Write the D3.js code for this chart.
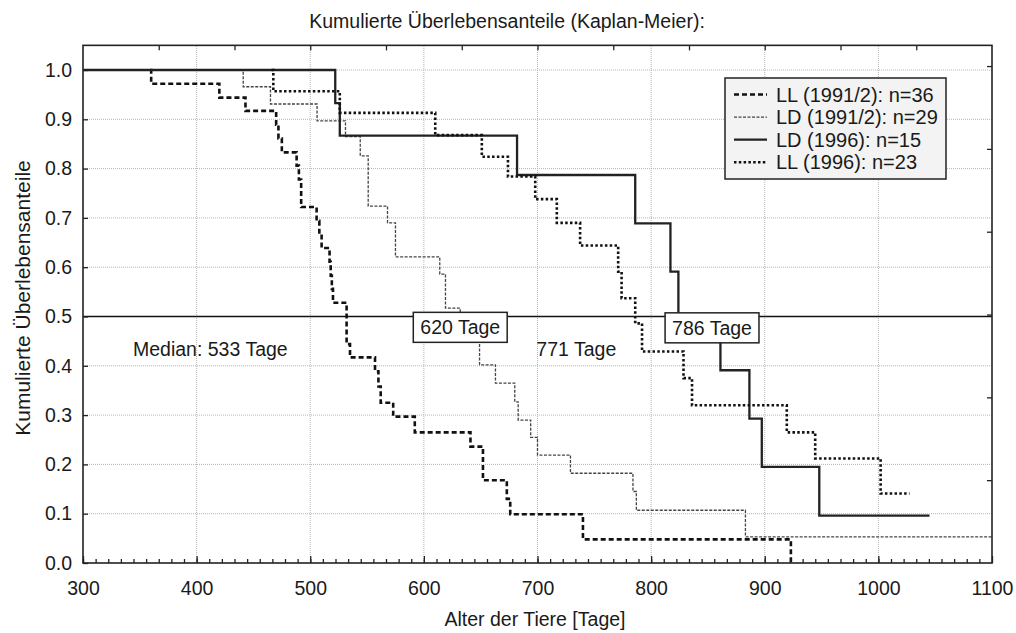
<!DOCTYPE html>
<html>
<head>
<meta charset="utf-8">
<script src="https://cdn.jsdelivr.net/npm/d3@7"></script>
<style>
  body { margin: 0; background: #fff; }
  svg text { font-family: "Liberation Sans", Arial, sans-serif; fill: #1a1a1a; }
</style>
</head>
<body>
<div id="root"></div>
<script>
// Kaplan-Meier step data: [Tage, kumulierte Ueberlebensanteile]
const llEarly = [
  [359, 1.0], [360, 0.972], [420, 0.944], [443, 0.917], [470, 0.889], [472, 0.861],
  [475, 0.833], [488, 0.806], [490, 0.778], [492, 0.722], [505.6, 0.694], [508, 0.667],
  [510, 0.639], [517, 0.611], [518, 0.583], [519, 0.556], [520, 0.528], [532, 0.444],
  [535, 0.417], [557, 0.389], [560, 0.358], [562, 0.325], [573, 0.297], [592, 0.265],
  [641, 0.236], [652, 0.168], [673, 0.13], [676, 0.099], [740, 0.048], [923, 0.0]
];
const ldEarly = [
  [300, 1.0], [441, 0.966], [465, 0.931], [506, 0.897], [531, 0.865], [544, 0.826],
  [551, 0.724], [568, 0.690], [575, 0.621], [614, 0.586], [619, 0.517], [632, 0.483],
  [642, 0.448], [649, 0.402], [663, 0.365], [680, 0.327], [683, 0.290], [694, 0.255],
  [700, 0.219], [729, 0.182], [784, 0.145], [787, 0.107], [883, 0.053], [1100, 0.053]
];
const ldLate = [
  [300, 1.0], [522, 0.933], [526, 0.867], [682, 0.787], [786, 0.689], [817, 0.591],
  [824, 0.492], [861, 0.391], [886.5, 0.293], [897.4, 0.195], [948, 0.096], [1045, 0.096]
];
const llLate = [
  [466, 1.0], [467.5, 0.957], [526, 0.913], [610, 0.868], [651, 0.824], [674, 0.784],
  [698, 0.738], [717, 0.69], [737.5, 0.644], [771, 0.591], [774, 0.537], [786, 0.486],
  [792, 0.429], [828.5, 0.375], [836, 0.320], [919.4, 0.265], [944.4, 0.212],
  [1002, 0.141], [1027.4, 0.141]
];

const seriesNames = ['LL (1991/2): n=36', 'LD (1991/2): n=29', 'LD (1996): n=15', 'LL (1996): n=23'];
const seriesData = [llEarly, ldEarly, ldLate, llLate];

const xTicks = [300, 400, 500, 600, 700, 800, 900, 1000, 1100];
const yTicks = [0, 0.1, 0.2, 0.3, 0.4, 0.5, 0.6, 0.7, 0.8, 0.9, 1.0];
const medianLevel = 0.5;

// annotations: [text, Tage, Anteil, boxed]
const notes = [
  ['Median: 533 Tage', 344, 0.42, false],
  ['771 Tage', 699, 0.42, false],
  ['620 Tage', 632, 0.478, true],
  ['786 Tage', 853.6, 0.477, true]
];

const styles = [
  { stroke: '#111', width: 2.6, dash: '5,3' },
  { stroke: '#444', width: 1.3, dash: '3,1.5' },
  { stroke: '#222', width: 2.3, dash: null },
  { stroke: '#111', width: 2.6, dash: '2.5,2.3' }
];

const width = 1016, height = 633;
const svg = d3.select('#root').append('svg').attr('width', width).attr('height', height);

const x = d3.scaleLinear().domain([300, 1100]).range([83, 992]);
const y = d3.scaleLinear().domain([0, 1]).range([563, 70]);
const yTop = 1.05;

// grid
svg.append('g').selectAll('line.vg')
  .data(xTicks.slice(1, -1)).enter().append('line')
  .attr('x1', d => x(d)).attr('x2', d => x(d))
  .attr('y1', y(0)).attr('y2', y(yTop))
  .attr('stroke', '#b5b5b5').attr('stroke-width', 1).attr('stroke-dasharray', '1,1');
svg.append('g').selectAll('line.hg')
  .data(yTicks.slice(1)).enter().append('line')
  .attr('x1', x(300)).attr('x2', x(1100))
  .attr('y1', d => y(d)).attr('y2', d => y(d))
  .attr('stroke', '#b5b5b5').attr('stroke-width', 1).attr('stroke-dasharray', '1,1');

// median line
svg.append('line')
  .attr('x1', x(300)).attr('x2', x(1100))
  .attr('y1', y(medianLevel)).attr('y2', y(medianLevel))
  .attr('stroke', '#111').attr('stroke-width', 1.5);

// curves
const line = d3.line()
  .x(d => x(d[0]))
  .y(d => y(d[1]))
  .curve(d3.curveStepAfter);

seriesData.forEach((s, i) => {
  svg.append('path')
    .datum(s)
    .attr('d', line)
    .attr('fill', 'none')
    .attr('stroke', styles[i].stroke)
    .attr('stroke-width', styles[i].width)
    .attr('stroke-dasharray', styles[i].dash);
});

// annotations
notes.forEach(n => {
  const g = svg.append('g');
  const t = g.append('text')
    .attr('x', x(n[1])).attr('y', y(n[2]))
    .attr('font-size', '19.5px')
    .attr('text-anchor', n[3] ? 'middle' : 'start')
    .attr('dominant-baseline', n[3] ? 'central' : 'auto')
    .text(n[0]);
  if (n[3]) {
    const bb = t.node().getBBox();
    g.insert('rect', 'text')
      .attr('x', bb.x - 7).attr('y', bb.y - 4)
      .attr('width', bb.width + 14).attr('height', bb.height + 8)
      .attr('fill', '#fff').attr('stroke', '#222').attr('stroke-width', 1.5);
  }
});

// axes
const axisText = sel => sel.selectAll('text').attr('font-size', '19.5px').attr('fill', '#1a1a1a');

svg.append('g')
  .attr('transform', `translate(0,${y(0)})`)
  .call(d3.axisBottom(x).tickValues(d3.range(300, 1100, 100 / 9)).tickSize(-4).tickFormat(''))
  .call(g => g.select('.domain').remove());
svg.append('g')
  .attr('transform', `translate(0,${y(0)})`)
  .call(d3.axisBottom(x).tickValues(xTicks).tickSize(-7).tickPadding(18).tickFormat(d3.format('d')))
  .call(axisText)
  .call(g => g.select('.domain').remove());
svg.append('g')
  .attr('transform', `translate(${x(300)},0)`)
  .call(d3.axisLeft(y).tickValues(yTicks).tickSize(-5).tickPadding(11).tickFormat(d3.format('.1f')))
  .call(axisText)
  .call(g => g.select('.domain').remove());
svg.append('g')
  .attr('transform', `translate(0,${y(yTop)})`)
  .call(d3.axisTop(x).tickValues(d3.range(300 + 200 / 3, 1100, 200 / 3)).tickSize(-5).tickFormat(''))
  .call(g => g.select('.domain').remove());
svg.append('g')
  .attr('transform', `translate(${x(1100)},0)`)
  .call(d3.axisRight(y).tickValues(d3.range(1, 7).map(k => k * 0.168)).tickSize(-5).tickFormat(''))
  .call(g => g.select('.domain').remove());
svg.selectAll('.tick line').attr('stroke', '#222').attr('stroke-width', 1.3);

// frame
svg.append('rect')
  .attr('x', x(300)).attr('y', y(yTop))
  .attr('width', x(1100) - x(300)).attr('height', y(0) - y(yTop))
  .attr('fill', 'none').attr('stroke', '#222').attr('stroke-width', 1.6);

// titles
svg.append('text')
  .attr('x', 507).attr('y', 28)
  .attr('text-anchor', 'middle').attr('font-size', '19.5px')
  .text('Kumulierte Überlebensanteile (Kaplan-Meier):');
svg.append('text')
  .attr('x', 535).attr('y', 626)
  .attr('text-anchor', 'middle').attr('font-size', '19.5px')
  .text('Alter der Tiere [Tage]');
svg.append('text')
  .attr('transform', 'translate(30,298) rotate(-90)')
  .attr('text-anchor', 'middle').attr('font-size', '21px')
  .text('Kumulierte Überlebensanteile');

// legend
const lg = svg.append('g').attr('transform', 'translate(725,78)');
lg.append('rect')
  .attr('width', 221).attr('height', 101)
  .attr('fill', '#f3f3f3').attr('stroke', '#222').attr('stroke-width', 1.5);
seriesNames.forEach((name, i) => {
  const yy = 23.5 + i * 22.6;
  lg.append('line')
    .attr('x1', 9).attr('x2', 42).attr('y1', yy - 7).attr('y2', yy - 7)
    .attr('stroke', styles[i].stroke).attr('stroke-width', styles[i].width)
    .attr('stroke-dasharray', styles[i].dash);
  lg.append('text')
    .attr('x', 51).attr('y', yy)
    .attr('font-size', '20px')
    .text(name);
});
</script>
</body>
</html>
